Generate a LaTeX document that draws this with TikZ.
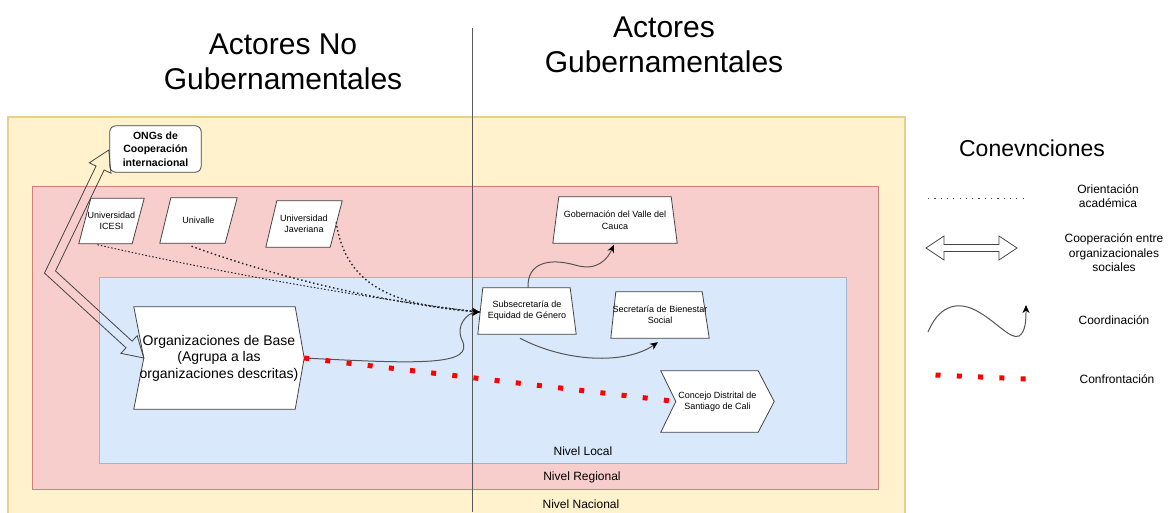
\documentclass[tikz,border=0pt]{standalone}
\usepackage{fontspec}
\setmainfont{Liberation Sans}
\usetikzlibrary{arrows.meta,calc}
\definecolor{yfill}{HTML}{FFF2CC}
\definecolor{ystroke}{HTML}{E6D08E}
\definecolor{rfill}{HTML}{F8CECC}
\definecolor{rstroke}{HTML}{D08078}
\definecolor{bfill}{HTML}{DAE8FC}
\definecolor{bstroke}{HTML}{9FB5D8}
\definecolor{shpline}{HTML}{444444}
\definecolor{curvec}{HTML}{555555}
\definecolor{confr}{HTML}{FF0000}
\pgfdeclarelayer{shapes}
\pgfsetlayers{shapes,main}
\newcommand\fsz[2]{\fontsize{#1}{#2}\selectfont}
\begin{document}
\begin{tikzpicture}[x=1pt,y=-1pt,
  lbl/.style={inner sep=0pt, align=center, text=black},
  box/.style 2 args={lbl, minimum width=#1, minimum height=#2},
  shp/.style={draw=shpline, fill=white, line width=0.8pt},
  orientA/.style={draw=black!85, line width=1pt, dash pattern=on 1.5pt off 2pt},
  orientB/.style={draw=black!85, line width=1.4pt, dash pattern=on 1.5pt off 2.6pt},
  tip/.style={-{Stealth[length=8pt,width=7pt,inset=2.5pt,color=black]}},
  coordc/.style={draw=curvec, line width=1pt, tip},
  conf/.style={draw=confr, line width=5pt, dash pattern=on 5pt off 16.3pt},
  coop/.style={draw=shpline, line width=0.8pt, fill=none, line join=miter}]
\useasboundingbox (0,0) rectangle (1170,512);
\clip (0,0) rectangle (1170,512);

% levels
\begin{pgfonlayer}{shapes}
  \draw[ystroke, fill=yfill, line width=1.2pt] (8,117) rectangle (905,530);
  \draw[rstroke, fill=rfill, line width=1pt] (32,186) rectangle (878,489);
  \draw[bstroke, fill=bfill, line width=1pt] (99,277) rectangle (846,463);
  \draw[black!65, line width=1pt] (472,28) -- (472,512);
\end{pgfonlayer}

% titles
\node[lbl, font=\fsz{30}{35}] (tno) at (283,62) {Actores No\\Gubernamentales};
\node[lbl, font=\fsz{30}{35}] (tgob) at (664,45) {Actores\\Gubernamentales};
\node[lbl, font=\fsz{23}{27}] (conv) at (1032,148) {Conevnciones};

% level labels
\node[lbl, font=\fsz{12}{14}] (nlocal) at (583,451) {Nivel Local};
\node[lbl, font=\fsz{12}{14}] (nreg) at (582,477) {Nivel Regional};
\node[lbl, font=\fsz{12}{14}] (nnac) at (581,504) {Nivel Nacional};

% nodes
\node[box={91pt}{46pt}, font=\bfseries\fsz{10.5}{13.5}] (ongs) at (155.5,149) {ONGs de\\Cooperación\\internacional};
\node[box={65pt}{45pt}, font=\fsz{9}{11.5}] (icesi) at (111.5,221) {Universidad\\ICESI};
\node[box={77pt}{45pt}, font=\fsz{9}{11.5}] (uv) at (198.5,220.5) {Univalle};
\node[box={76pt}{46pt}, font=\fsz{9}{11.5}] (jav) at (304,224) {Universidad\\Javeriana};
\node[box={170pt}{102pt}, font=\fsz{14}{16.5}] (org) at (219,358) {Organizaciones de Base\\(Agrupa a las\\organizaciones descritas)};
\node[box={98pt}{46pt}, font=\fsz{9}{11}] (sub) at (527,311) {Subsecretaría de\\Equidad de Género};
\node[box={124pt}{46pt}, font=\fsz{9}{11.5}] (gob) at (615,220) {Gobernación del Valle del\\Cauca};
\node[box={98pt}{46pt}, font=\fsz{9}{11}] (sec) at (660,315) {Secretaría de Bienestar\\Social};
\node[box={113pt}{61pt}, font=\fsz{9}{10.5}] (con) at (717.5,401.5) {Concejo Distrital de\\Santiago de Cali};

% shape outlines
\begin{pgfonlayer}{shapes}
  \draw[shp, rounded corners=6pt] (ongs.north west) rectangle (ongs.south east);
  \draw[shp] ($(icesi.north west)+(12,0)$) -- (icesi.north east) -- ($(icesi.south east)+(-12,0)$) -- (icesi.south west) -- cycle;
  \draw[shp] ($(uv.north west)+(11,0)$) -- (uv.north east) -- ($(uv.south east)+(-12,0)$) -- (uv.south west) -- cycle;
  \draw[shp] ($(jav.north west)+(11,0)$) -- (jav.north east) -- ($(jav.south east)+(-12,0)$) -- (jav.south west) -- cycle;
  \draw[shp] (org.north west) -- ($(org.north east)+(-9,0)$) -- (org.east) -- ($(org.south east)+(-9,0)$) -- (org.south west) -- ($(org.west)+(10,0)$) -- cycle;
  \draw[shp] ($(sub.north west)+(5,0)$) -- ($(sub.north east)+(-6,0)$) -- (sub.south east) -- (sub.south west) -- cycle;
  \draw[shp] ($(gob.north west)+(6,0)$) -- ($(gob.north east)+(-6,0)$) -- (gob.south east) -- (gob.south west) -- cycle;
  \draw[shp] ($(sec.north west)+(5,0)$) -- ($(sec.north east)+(-7,0)$) -- (sec.south east) -- (sec.south west) -- cycle;
  \draw[shp] (con.north west) -- ($(con.north east)+(-16,0)$) -- (con.east) -- ($(con.south east)+(-16,0)$) -- (con.south west) -- ($(con.west)+(15,0)$) -- cycle;
\end{pgfonlayer}

% end point at Subsecretaria
\coordinate (subin) at ($(sub.west)+(2,1)$);

% orientation (dotted)
\draw[orientA, tip] ($(icesi.south)+(-14,1)$) .. controls (230,275) and (380,300) .. (subin);
\draw[orientB] ($(uv.south)+(-7,3)$) .. controls (270,275) and (380,303) .. (subin);
\draw[orientB] ($(jav.east)+(-6,-2)$) .. controls (346,290) and (400,306) .. (subin);

% coordination
\draw[coordc] (org.east) .. controls (420,364) and (475,366) .. (462,340) .. controls (455,325) and (468,313) .. (subin);
\draw[coordc] ($(sub.north)+(1,0)$) .. controls (527,262) and (550,258) .. (575,265) .. controls (598,272) and (608,258) .. ($(gob.south)+(-1,1.5)$);
\draw[coordc] ($(sub.south)+(-7,4)$) .. controls (565,362) and (625,365) .. ($(sec.south)+(-2,4)$);

% confrontation
\draw[conf] (org.east) -- ($(con.west)+(15,0)$);

% cooperation (hollow double arrow)
\coordinate (cA) at ($(org.west)+(10,0)$);
\coordinate (cW) at (50,272);
\coordinate (cB) at ($(ongs.west)+(-1,1)$);
\coordinate (cA1) at ($(cA)!20pt!(cW)$);
\coordinate (cB1) at ($(cB)!20pt!(cW)$);
\coordinate (hAP) at ($(cA1)!12pt!90:(cW)$);
\coordinate (hAQ) at ($(cA1)!12pt!-90:(cW)$);
\coordinate (sAP) at ($(cA1)!4.5pt!90:(cW)$);
\coordinate (sAQ) at ($(cA1)!4.5pt!-90:(cW)$);
\coordinate (hBP) at ($(cB1)!12pt!-90:(cW)$);
\coordinate (hBQ) at ($(cB1)!12pt!90:(cW)$);
\coordinate (sBP) at ($(cB1)!4.5pt!-90:(cW)$);
\coordinate (sBQ) at ($(cB1)!4.5pt!90:(cW)$);
\coordinate (wAP) at ($(cW)!4.5pt!-90:(cA1)$);
\coordinate (wAQ) at ($(cW)!4.5pt!90:(cA1)$);
\coordinate (wBP) at ($(cW)!4.5pt!90:(cB1)$);
\coordinate (wBQ) at ($(cW)!4.5pt!-90:(cB1)$);
\coordinate (cP) at (intersection of sAP--wAP and wBP--sBP);
\coordinate (cQ) at (intersection of sAQ--wAQ and wBQ--sBQ);
\draw[coop] (cA) -- (hAP) -- (sAP) -- (cP) -- (sBP) -- (hBP) -- (cB) -- (hBQ) -- (sBQ) -- (cQ) -- (sAQ) -- (hAQ) -- cycle;

% legend
\draw[draw=black!70, line width=1pt, dash pattern=on 1.2pt off 5.1pt] (928,198) -- (1024,198);
\node[lbl, font=\fsz{12}{14}] (l1) at (1108,196) {Orientación\\académica};

\draw[coop] (926,248) -- (944,236) -- (944,244.5) -- (999,244.5) -- (999,236) -- (1017,248) -- (999,260) -- (999,251.5) -- (944,251.5) -- (944,260) -- cycle;
\node[lbl, font=\fsz{12}{14.5}] (l2) at (1114,253) {Cooperación entre\\organizacionales\\sociales};

\draw[coordc] (928,332) .. controls (938,308) and (955,300) .. (975,310) .. controls (995,320) and (1010,340) .. (1019,336) .. controls (1026,332) and (1026,318) .. (1026,305);
\node[lbl, font=\fsz{12}{14}] (l3) at (1114,320) {Coordinación};

\draw[conf] (935.5,375) -- (1026,379);
\node[lbl, font=\fsz{12}{14}] (l4) at (1117,379) {Confrontación};
\end{tikzpicture}
\end{document}
